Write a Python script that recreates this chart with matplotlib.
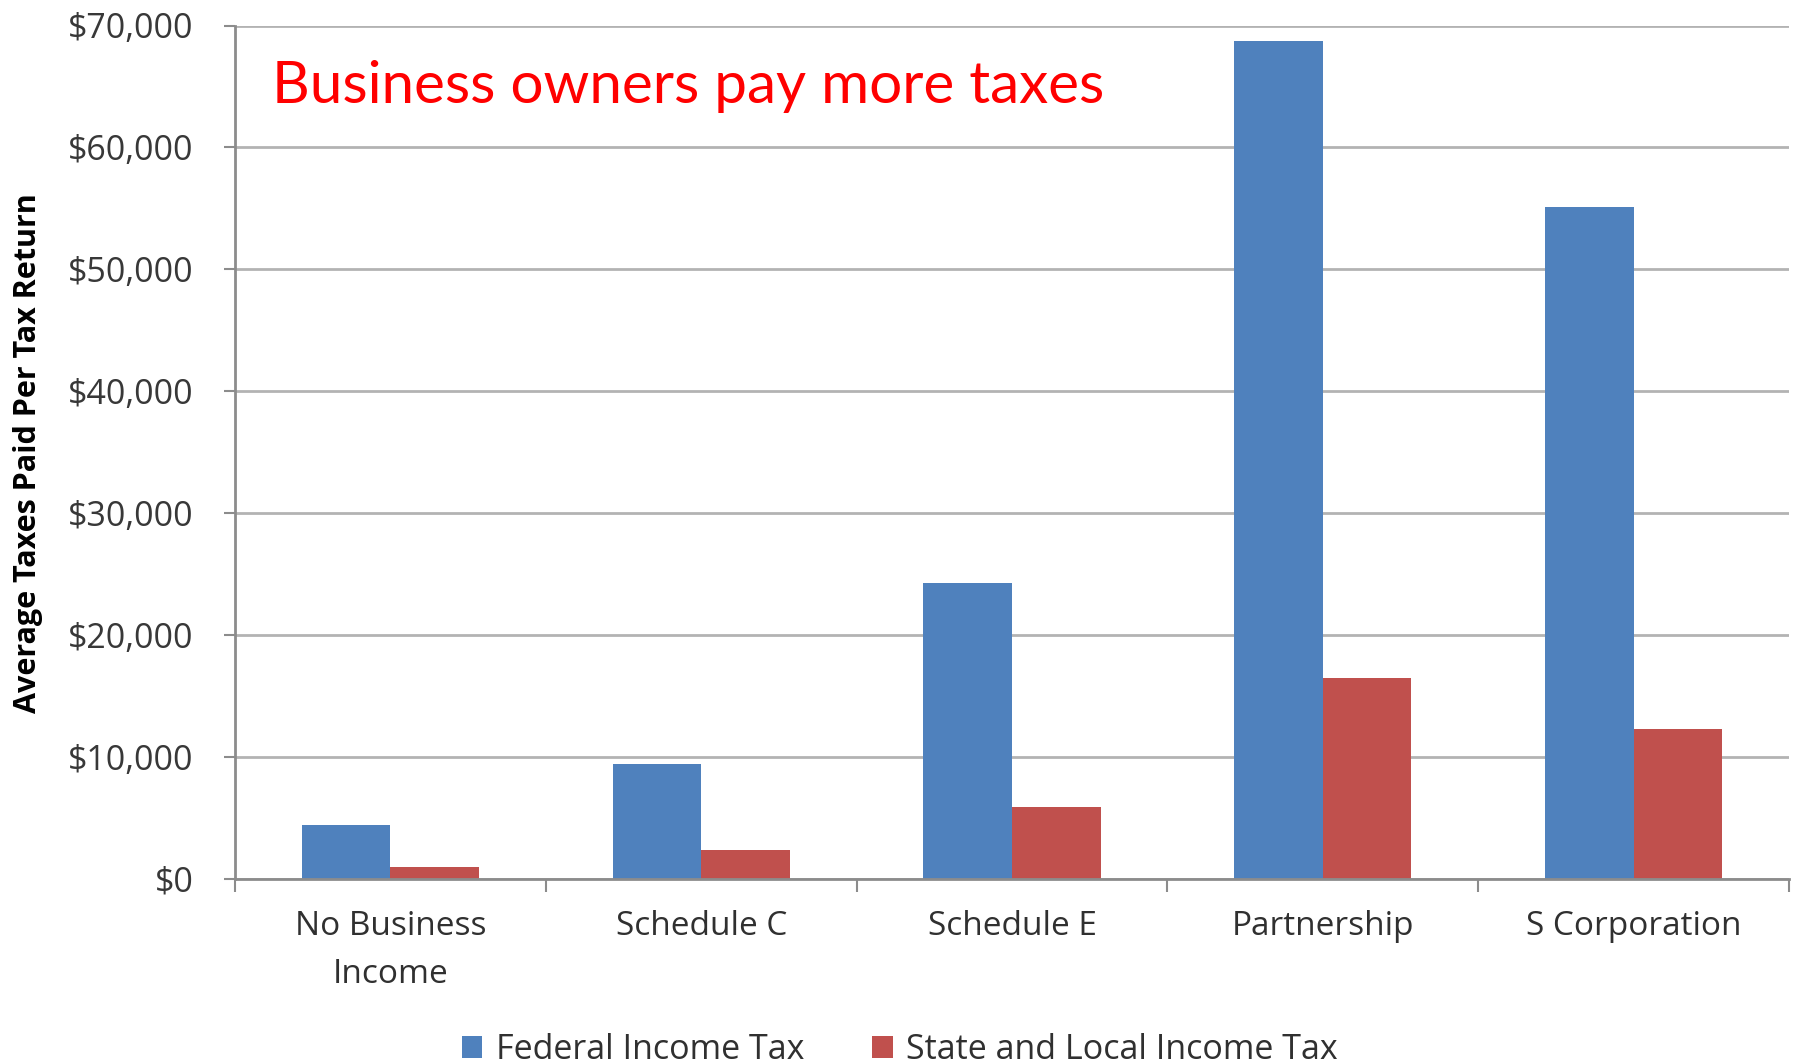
import numpy as np
import matplotlib
matplotlib.use("Agg")
import matplotlib.pyplot as plt
from matplotlib.patches import Patch
from matplotlib.ticker import FuncFormatter, FixedLocator

plt.rcParams['font.family'] = ['Open Sans', 'DejaVu Sans']

categories = ["No Business\nIncome", "Schedule C", "Schedule E", "Partnership", "S Corporation"]
federal_tax = [4400, 9400, 24300, 68700, 55100]
state_local_tax = [1000, 2350, 5900, 16500, 12300]
series_names = ["Federal Income Tax", "State and Local Income Tax"]
y_ticks = [0, 10000, 20000, 30000, 40000, 50000, 60000, 70000]
title_text = "Business owners pay more taxes"
y_label = "Average Taxes Paid Per Tax Return"

BLUE = "#4F81BD"
RED = "#C0504D"
GRID = "#B3B3B3"
AXIS = "#8C8C8C"
TEXT = "#303030"

W, H = 1800, 1064
fig = plt.figure(figsize=(W / 100, H / 100), dpi=100)
left, right, top, bottom = 235, 1789, 25.5, 879
ax = fig.add_axes([left / W, 1 - bottom / H, (right - left) / W, (bottom - top) / H])

x = np.arange(len(categories))
bw = 0.285
ax.bar(x - bw / 2, federal_tax, width=bw, color=BLUE, zorder=3)
ax.bar(x + bw / 2, state_local_tax, width=bw, color=RED, zorder=3)

ax.set_xlim(-0.5, len(categories) - 0.5)
ax.set_ylim(0, 70000)

# horizontal gridlines, including the top one
ax.set_yticks(y_ticks)
ax.yaxis.set_major_formatter(FuncFormatter(lambda v, p: f"${v:,.0f}"))
ax.grid(axis='y', color=GRID, linewidth=2, zorder=0)
ax.grid(axis='x', visible=False)

for s in ['top', 'right']:
    ax.spines[s].set_visible(False)
for s in ['left', 'bottom']:
    ax.spines[s].set_color(AXIS)
    ax.spines[s].set_linewidth(2)
    ax.spines[s].set_zorder(4)

ax.tick_params(axis='y', length=8, width=1.5, color=AXIS, pad=22,
               labelsize=24.5, labelcolor="#383838")

# category boundaries carry tick marks; labels sit at category centres
ax.xaxis.set_major_locator(FixedLocator(np.arange(-0.5, len(categories), 1.0)))
ax.xaxis.set_minor_locator(FixedLocator(x))
ax.xaxis.set_major_formatter(FuncFormatter(lambda v, p: ""))
ax.set_xticks(x, categories, minor=True)
ax.tick_params(axis='x', which='major', length=9, width=1.5, color=AXIS, direction='out')
ax.tick_params(axis='x', which='minor', length=0, pad=22, labelsize=24, labelcolor=TEXT)
for lbl in ax.get_xticklabels(minor=True):
    lbl.set_linespacing(1.6)

fig.text(272 / W, 1 - 103 / H, title_text, color="#FF0000", fontsize=42,
         ha='left', va='baseline', family=['Lato', 'DejaVu Sans'])

fig.text(28 / W, 1 - 453 / H, y_label, rotation=90, ha='center', va='center',
         fontsize=22, fontweight='bold', color='black')

handles = [Patch(facecolor=BLUE, edgecolor='none'), Patch(facecolor=RED, edgecolor='none')]
fig.legend(handles, series_names, loc='center', bbox_to_anchor=(0.5, 14 / H),
           ncol=2, frameon=False, fontsize=24.5, labelcolor=TEXT,
           handlelength=0.6, handleheight=0.6, handletextpad=0.4,
           columnspacing=2.0)

fig.savefig("out.png", dpi=100, facecolor='white')
